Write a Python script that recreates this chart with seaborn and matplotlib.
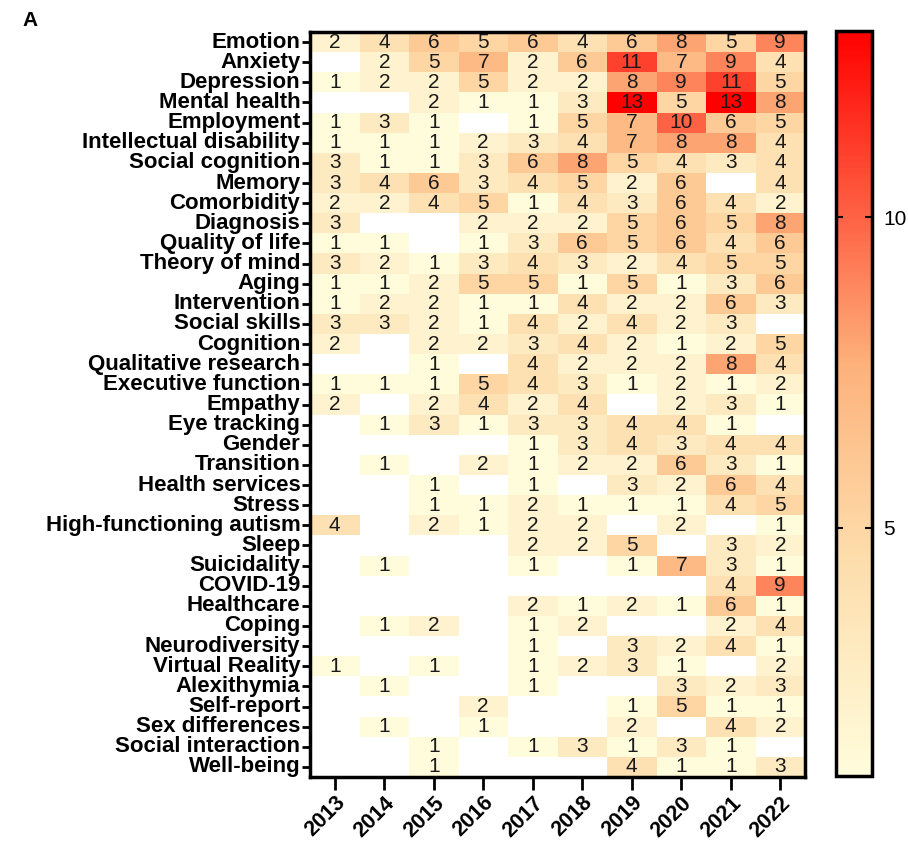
import numpy as np
import pandas as pd
import matplotlib
matplotlib.use("Agg")
import matplotlib.pyplot as plt
import seaborn as sns
from matplotlib.colors import LinearSegmentedColormap

years = ["2013", "2014", "2015", "2016", "2017", "2018", "2019", "2020", "2021", "2022"]
topics = ["Emotion", "Anxiety", "Depression", "Mental health", "Employment",
          "Intellectual disability", "Social cognition", "Memory", "Comorbidity",
          "Diagnosis", "Quality of life", "Theory of mind", "Aging", "Intervention",
          "Social skills", "Cognition", "Qualitative research", "Executive function",
          "Empathy", "Eye tracking", "Gender", "Transition", "Health services",
          "Stress", "High-functioning autism", "Sleep", "Suicidality", "COVID-19",
          "Healthcare", "Coping", "Neurodiversity", "Virtual Reality", "Alexithymia",
          "Self-report", "Sex differences", "Social interaction", "Well-being"]
n = np.nan
counts = [
    [2, 4, 6, 5, 6, 4, 6, 8, 5, 9],
    [n, 2, 5, 7, 2, 6, 11, 7, 9, 4],
    [1, 2, 2, 5, 2, 2, 8, 9, 11, 5],
    [n, n, 2, 1, 1, 3, 13, 5, 13, 8],
    [1, 3, 1, n, 1, 5, 7, 10, 6, 5],
    [1, 1, 1, 2, 3, 4, 7, 8, 8, 4],
    [3, 1, 1, 3, 6, 8, 5, 4, 3, 4],
    [3, 4, 6, 3, 4, 5, 2, 6, n, 4],
    [2, 2, 4, 5, 1, 4, 3, 6, 4, 2],
    [3, n, n, 2, 2, 2, 5, 6, 5, 8],
    [1, 1, n, 1, 3, 6, 5, 6, 4, 6],
    [3, 2, 1, 3, 4, 3, 2, 4, 5, 5],
    [1, 1, 2, 5, 5, 1, 5, 1, 3, 6],
    [1, 2, 2, 1, 1, 4, 2, 2, 6, 3],
    [3, 3, 2, 1, 4, 2, 4, 2, 3, n],
    [2, n, 2, 2, 3, 4, 2, 1, 2, 5],
    [n, n, 1, n, 4, 2, 2, 2, 8, 4],
    [1, 1, 1, 5, 4, 3, 1, 2, 1, 2],
    [2, n, 2, 4, 2, 4, n, 2, 3, 1],
    [n, 1, 3, 1, 3, 3, 4, 4, 1, n],
    [n, n, n, n, 1, 3, 4, 3, 4, 4],
    [n, 1, n, 2, 1, 2, 2, 6, 3, 1],
    [n, n, 1, n, 1, n, 3, 2, 6, 4],
    [n, n, 1, 1, 2, 1, 1, 1, 4, 5],
    [4, n, 2, 1, 2, 2, n, 2, n, 1],
    [n, n, n, n, 2, 2, 5, n, 3, 2],
    [n, 1, n, n, 1, n, 1, 7, 3, 1],
    [n, n, n, n, n, n, n, n, 4, 9],
    [n, n, n, n, 2, 1, 2, 1, 6, 1],
    [n, 1, 2, n, 1, 2, n, n, 2, 4],
    [n, n, n, n, 1, n, 3, 2, 4, 1],
    [1, n, 1, n, 1, 2, 3, 1, n, 2],
    [n, 1, n, n, 1, n, n, 3, 2, 3],
    [n, n, n, 2, n, n, 1, 5, 1, 1],
    [n, 1, n, 1, n, n, 2, n, 4, 2],
    [n, n, 1, n, 1, 3, 1, 3, 1, n],
    [n, n, 1, n, n, n, 4, 1, 1, 3],
]

df = pd.DataFrame(counts, index=topics, columns=years)

plt.rcParams['font.family'] = ['Liberation Sans', 'DejaVu Sans']

cmap = LinearSegmentedColormap.from_list(
    "cream_red", [(0.0, "#FFFCDC"), (0.30, "#FDDCAA"), (0.55, "#FDB27C"), (1.0, "#FF0000")])

fig = plt.figure(figsize=(9.08, 8.43), dpi=100)
ax = fig.add_axes([310/908, 1-777/843, 495/908, 745/843])
cax = fig.add_axes([836/908, 1-776/843, 36/908, 745/843])

sns.heatmap(df, ax=ax, cbar_ax=cax, cmap=cmap, vmin=1, vmax=13,
            mask=df.isna(), annot=True, fmt=".0f",
            annot_kws={"fontsize": 15, "color": "#1a1a1a"},
            cbar_kws={"ticks": [5, 10]})

for s in ax.spines.values():
    s.set_visible(True)
    s.set_linewidth(2.5)
    s.set_color("black")

ax.tick_params(axis="y", left=True, length=6, width=2, pad=1)
ax.tick_params(axis="x", bottom=True, length=9, width=2, pad=2)
ax.set_yticklabels(topics, fontsize=16, fontweight="bold", rotation=0)
ax.set_xticklabels(years, fontsize=15.5, fontweight="bold", rotation=45,
                   ha="right", rotation_mode="anchor")
ax.set_xlabel("")
ax.set_ylabel("")

cb = ax.collections[0].colorbar
cb.outline.set_visible(True)
cb.outline.set_linewidth(2.5)
cb.outline.set_edgecolor("black")
cax.tick_params(axis="y", direction="in", left=True, right=True, length=5, width=1.5,
                labelsize=15, pad=8)
cax.yaxis.set_ticks_position("both")

fig.text(22/908, 1-20/843, "A", fontsize=15, fontweight="bold", va="center", ha="left")

fig.savefig("out.png", dpi=100)
